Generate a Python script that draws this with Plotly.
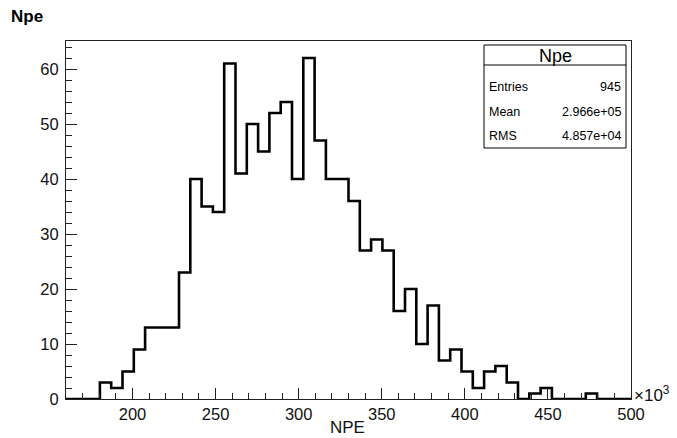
import plotly.graph_objects as go

# Histogram definition: 50 equal-width bins over NPE (in units of 10^3)
x_low, x_high = 160.0, 500.0
n_bins = 50
counts = [0, 0, 0, 3, 2, 5, 9, 13, 13, 13,
          23, 40, 35, 34, 61, 41, 50, 45, 52, 54,
          40, 62, 47, 40, 40, 36, 27, 29, 27, 16,
          20, 10, 17, 7, 9, 5, 2, 5, 6, 3,
          0, 1, 2, 0, 0, 0, 1, 0, 0, 0]

stat_labels = ["Entries", "Mean", "RMS"]
stat_values = ["945", "2.966e+05", "4.857e+04"]
hist_name = "Npe"
x_title = "NPE"

y_max = 1.05 * max(counts)
width = (x_high - x_low) / n_bins
edges = [x_low + i * width for i in range(n_bins + 1)]

# step outline: one point per bin edge, last point repeats last count
step_x = edges
step_y = counts + [counts[-1]]

W, H = 677, 438
ML, MR, MT, MB = 66, 46, 41, 39
PW, PH = W - ML - MR, H - MT - MB


def px(xp):
    return (xp - ML) / PW


def py(yp):
    return (H - MB - yp) / PH


fig = go.Figure()
fig.add_trace(go.Scatter(
    x=step_x, y=step_y, mode="lines", line_shape="hv",
    line=dict(color="black", width=2.6), hoverinfo="skip", showlegend=False,
))

font_family = "Liberation Sans, Arial, Helvetica, sans-serif"
axis_common = dict(
    showgrid=False, zeroline=False, showline=True, mirror=True,
    linecolor="#222", linewidth=1, ticks="inside",
    tickcolor="#222", tickwidth=1, automargin=False,
    tickfont=dict(family=font_family, size=16.5, color="#111"),
)

fig.update_xaxes(
    range=[x_low, x_high], tickmode="linear", tick0=0, dtick=50, ticklen=11,
    minor=dict(dtick=10, tick0=0, ticks="inside", ticklen=6, tickcolor="#222"),
    ticklabelstandoff=0,
    **axis_common,
)
fig.update_yaxes(
    range=[0, y_max], tickmode="linear", tick0=0, dtick=10, ticklen=11,
    minor=dict(dtick=2, tick0=0, ticks="inside", ticklen=6, tickcolor="#222"),
    ticklabelstandoff=3,
    **axis_common,
)

shapes = []
annotations = []

# statistics box
bx0, bx1, by0, by1, bsep = 484, 626, 45, 148, 65
shapes.append(dict(type="rect", xref="paper", yref="paper",
                   x0=px(bx0), x1=px(bx1), y0=py(by1), y1=py(by0),
                   line=dict(color="black", width=1), fillcolor="white"))
shapes.append(dict(type="line", xref="paper", yref="paper",
                   x0=px(bx0), x1=px(bx1), y0=py(bsep), y1=py(bsep),
                   line=dict(color="black", width=1)))
annotations.append(dict(text=hist_name, xref="paper", yref="paper",
                        x=px((bx0 + bx1) / 2), y=py((by0 + bsep) / 2 + 0.5),
                        xanchor="center", yanchor="middle", showarrow=False,
                        font=dict(family=font_family, size=18, color="black")))
row_y = [87, 112, 136]
for lab, val, yy in zip(stat_labels, stat_values, row_y):
    annotations.append(dict(text=lab, xref="paper", yref="paper",
                            x=px(bx0 + 3), y=py(yy), xanchor="left", yanchor="middle",
                            showarrow=False,
                            font=dict(family=font_family, size=12.5, color="black")))
    annotations.append(dict(text=val, xref="paper", yref="paper",
                            x=px(bx1 - 3), y=py(yy), xanchor="right", yanchor="middle",
                            showarrow=False,
                            font=dict(family=font_family, size=12.5, color="black")))

# axis title, canvas title and axis exponent
annotations.append(dict(text=x_title, xref="paper", yref="paper",
                        x=px(347), y=py(439), xanchor="center", yanchor="bottom",
                        showarrow=False,
                        font=dict(family=font_family, size=17, color="#111")))
annotations.append(dict(text="<b>Npe</b>", xref="paper", yref="paper",
                        x=px(9), y=py(16), xanchor="left", yanchor="middle",
                        showarrow=False,
                        font=dict(family=font_family, size=17, color="black")))
annotations.append(dict(text="×10<sup>3</sup>", xref="paper", yref="paper",
                        x=px(632), y=py(394), xanchor="left", yanchor="middle",
                        showarrow=False,
                        font=dict(family=font_family, size=17, color="#111")))

fig.update_layout(
    width=W, height=H, margin=dict(l=ML, r=MR, t=MT, b=MB, autoexpand=False),
    paper_bgcolor="white", plot_bgcolor="white",
    shapes=shapes, annotations=annotations, showlegend=False,
)

fig.write_html("out.html")
